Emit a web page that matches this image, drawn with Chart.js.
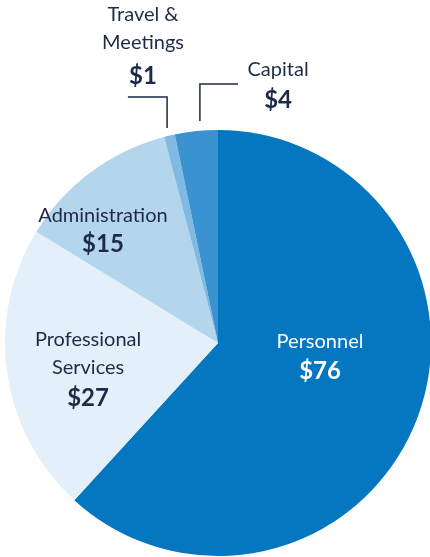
<!DOCTYPE html>
<html>
<head>
<meta charset="utf-8">
<script src="https://cdn.jsdelivr.net/npm/chart.js@4.4.1/dist/chart.umd.min.js"></script>
<style>
  html, body { margin: 0; padding: 0; background: #fff; overflow: hidden; }
  #wrap { position: relative; width: 440px; height: 560px; }
</style>
</head>
<body>
<div id="wrap"><canvas id="budget"></canvas></div>
<script>
// budget slices, clockwise from 12 o'clock
var categories = ['Personnel', 'Professional Services', 'Administration', 'Travel & Meetings', 'Capital'];
var amounts = [76, 27, 15, 1, 4];
var sliceColors = ['#0477c0', '#e3eff9', '#b4d6ec', '#80b9e1', '#3a92d0'];

// label text lines (name may wrap)
var labelLines = [['Personnel'], ['Professional', 'Services'], ['Administration'], ['Travel &', 'Meetings'], ['Capital']];

// first text line anchor, in units of the pie radius from its centre
var labelSpots = [
    { dx: 0.479, dy: -0.009, gap: 30, color: '#ffffff' },
    { dx: -0.61, dy: -0.014, gap: 30, color: '#1d2b48' },
    { dx: -0.54, dy: -0.60, gap: 29, color: '#1d2b48' },
    { dx: -0.352, dy: -1.54, gap: 33, color: '#1d2b48', leader: [[-0.239, -1.009], [-0.239, -1.155], [-0.423, -1.155]] },
    { dx: 0.282, dy: -1.286, gap: 31, color: '#1d2b48', leader: [[-0.085, -1.042], [-0.085, -1.216], [0.094, -1.216]] }
];

var NAVY = '#1d2b48';
var FONT = 'Lato, "Open Sans", sans-serif';

var sliceLabels = {
    id: 'sliceLabels',
    afterDraw: function(chart){
        var ctx = chart.ctx;
        var arcs = chart.getDatasetMeta(0).data;
        ctx.save();
        ctx.textAlign = 'center';
        ctx.textBaseline = 'middle';
        arcs.forEach(function(arc, i){
            var r = arc.outerRadius, cx = arc.x, cy = arc.y;
            var spot = labelSpots[i];
            var lines = labelLines[i];
            var x = cx + spot.dx * r;
            var y = cy + spot.dy * r;
            var lh = 28;
            ctx.fillStyle = spot.color;
            ctx.font = '20px ' + FONT;
            lines.forEach(function(t, k){ ctx.fillText(t, x, y + k * lh); });
            ctx.font = 'bold 24px ' + FONT;
            ctx.fillText('$' + amounts[i], x, y + (lines.length - 1) * lh + spot.gap);
            if(spot.leader){
                ctx.strokeStyle = NAVY;
                ctx.lineWidth = 1.5;
                ctx.beginPath();
                spot.leader.forEach(function(p, k){
                    var px = cx + p[0] * r, py = cy + p[1] * r;
                    if(k === 0) ctx.moveTo(px, py); else ctx.lineTo(px, py);
                });
                ctx.stroke();
            }
        });
        ctx.restore();
    }
};

new Chart(document.getElementById('budget'), {
    type: 'pie',
    data: {
        labels: categories,
        datasets: [{
            data: amounts,
            backgroundColor: sliceColors,
            borderWidth: 0
        }]
    },
    options: {
        responsive: true,
        maintainAspectRatio: false,
        animation: false,
        layout: { padding: { left: 5, top: 130, right: 9, bottom: 4 } },
        plugins: { legend: { display: false }, tooltip: { enabled: false } }
    },
    plugins: [sliceLabels]
});
</script>
</body>
</html>
